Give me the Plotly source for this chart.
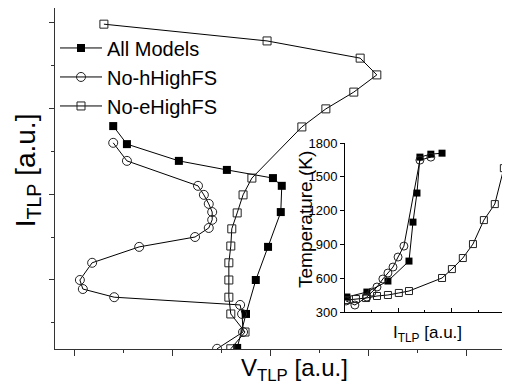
import plotly.graph_objects as go

# ---- main plot data (V_TLP vs I_TLP, arbitrary units) ----
all_x = [3.31, 3.49, 3.69, 3.94, 4.20, 4.22, 4.04, 3.10, 2.12, 1.06, 0.78]
all_y = [-1.58, -0.79, 0.0, 0.77, 1.58, 2.19, 2.37, 2.56, 2.77, 3.16, 3.58]

noh_x = [2.90, 3.43, 3.41, 3.37, 0.80, 0.16, 0.10, 0.35, 1.31, 2.45, 2.73, 2.80, 2.80, 2.73, 2.63, 2.51, 1.06, 0.78]
noh_y = [-1.60, -1.21, -0.79, -0.58, -0.40, -0.21, 0.0, 0.40, 0.77, 1.00, 1.21, 1.40, 1.58, 1.77, 1.98, 2.19, 2.77, 3.19]

noe_x = [3.18, 3.47, 3.18, 3.14, 3.14, 3.14, 3.18, 3.20, 3.31, 3.43, 3.61, 4.63, 5.12, 5.69, 6.16, 5.82, 3.92, 0.59]
noe_y = [-1.60, -1.21, -0.79, -0.40, 0.0, 0.40, 0.79, 1.19, 1.56, 1.98, 2.37, 3.56, 3.98, 4.37, 4.77, 5.16, 5.56, 5.95]

# ---- inset data (Temperature vs I_TLP) ----
in_all_x = [0.07, 0.82, 1.61, 2.40, 2.55, 2.70, 2.81, 3.22, 3.64]
in_all_t = [433, 477, 575, 752, 1098, 1356, 1675, 1701, 1710]

in_noh_x = [0.04, 0.37, 0.82, 1.01, 1.20, 1.42, 1.61, 1.80, 1.99, 2.21, 2.81, 3.22]
in_noh_t = [398, 362, 433, 477, 522, 593, 646, 699, 788, 885, 1648, 1675]

in_noe_x = [0.07, 0.41, 0.79, 1.20, 1.61, 2.02, 2.40, 3.64, 4.01, 4.42, 4.80, 5.21, 5.62, 5.96]
in_noe_t = [406, 415, 424, 442, 451, 469, 486, 602, 681, 779, 903, 1116, 1258, 1577]

names = ["All Models", "No-hHighFS", "No-eHighFS"]
temp_ticks = [300, 600, 900, 1200, 1500, 1800]

FONT = "Liberation Sans, Arial, sans-serif"
BLACK = "#000000"
EDGE = "#222222"

fig = go.Figure()

styles = [
    dict(symbol="square", size=8, color=BLACK, line=dict(width=0)),
    dict(symbol="circle-open", size=9, color=EDGE, line=dict(width=1, color=EDGE)),
    dict(symbol="square-open", size=8, color=EDGE, line=dict(width=1, color=EDGE)),
]
main_sets = [(all_x, all_y), (noh_x, noh_y), (noe_x, noe_y)]
for (xs, ys), nm, st in zip(main_sets, names, styles):
    fig.add_trace(go.Scatter(x=xs, y=ys, name=nm, mode="lines+markers",
                             line=dict(color=BLACK, width=1), marker=st))

inset_styles = [
    dict(symbol="square", size=7, color=BLACK, line=dict(width=0)),
    dict(symbol="circle-open", size=8, color=EDGE, line=dict(width=1, color=EDGE)),
    dict(symbol="square-open", size=7, color=EDGE, line=dict(width=1, color=EDGE)),
]
inset_sets = [(in_all_x, in_all_t), (in_noh_x, in_noh_t), (in_noe_x, in_noe_t)]
for (xs, ys), nm, st in zip(inset_sets, names, inset_styles):
    fig.add_trace(go.Scatter(x=xs, y=ys, name=nm, mode="lines+markers", showlegend=False,
                             xaxis="x2", yaxis="y2",
                             line=dict(color=BLACK, width=1), marker=st))

fig.update_layout(
    width=502, height=377,
    margin=dict(l=47, r=0, t=0, b=36, autoexpand=False),
    paper_bgcolor="white", plot_bgcolor="white",
    font=dict(family=FONT, color=BLACK),
    showlegend=True,
    legend=dict(x=0.0, y=0.94, xanchor="left", yanchor="top",
                font=dict(size=20, family=FONT, color=BLACK),
                bgcolor="rgba(0,0,0,0)", itemwidth=42, tracegroupgap=0),
    xaxis=dict(range=[-0.408, 8.878], showgrid=False, zeroline=False,
               showline=True, linecolor="#333333", linewidth=1, mirror=True,
               ticks="outside", ticklen=6, tickcolor="#333333", dtick=2, tick0=0,
               minor=dict(dtick=1, ticks="outside", ticklen=3, tickcolor="#333333"),
               showticklabels=False),
    yaxis=dict(range=[-1.605, 6.326], showgrid=False, zeroline=False,
               showline=True, linecolor="#333333", linewidth=1,
               ticks="outside", ticklen=5, tickcolor="#333333", dtick=2, tick0=0,
               minor=dict(dtick=1, ticks="outside", ticklen=3, tickcolor="#333333"),
               showticklabels=False),
    xaxis2=dict(domain=[0.6374, 1.0], anchor="y2", range=[0, 6.19],
                showgrid=False, zeroline=False, showline=True, linecolor=BLACK, linewidth=1,
                ticks="inside", ticklen=4, tickcolor=BLACK, dtick=2, tick0=0,
                minor=dict(dtick=1, ticks="inside", ticklen=2, tickcolor=BLACK),
                showticklabels=False,
                title=dict(text="I<sub>TLP</sub> [a.u.]", font=dict(size=17, family=FONT), standoff=14)),
    yaxis2=dict(domain=[0.1085, 0.604], anchor="x2", range=[300, 1800],
                showgrid=False, zeroline=False, showline=True, linecolor=BLACK, linewidth=1,
                ticks="outside", ticklen=4, tickcolor=BLACK,
                tickmode="array", tickvals=temp_ticks, ticktext=[str(t) for t in temp_ticks],
                tickfont=dict(size=13, family=FONT)),
    annotations=[
        dict(text="I<sub>TLP</sub> [a.u.]", xref="paper", yref="paper",
             x=-0.0615, y=0.524, xanchor="center", yanchor="middle",
             textangle=-90, showarrow=False, font=dict(size=28, family=FONT)),
        dict(text="V<sub>TLP</sub> [a.u.]", xref="paper", yref="paper",
             x=0.527, y=-0.060, xanchor="center", yanchor="middle",
             showarrow=False, font=dict(size=24, family=FONT)),
        dict(text="Temperature (K)", xref="paper", yref="paper",
             x=(305 - 55) / 455, y=(349 - 220) / 341, xanchor="center", yanchor="middle",
             textangle=-90, showarrow=False, font=dict(size=19, family=FONT)),
    ],
)

fig.write_html("out.html")
